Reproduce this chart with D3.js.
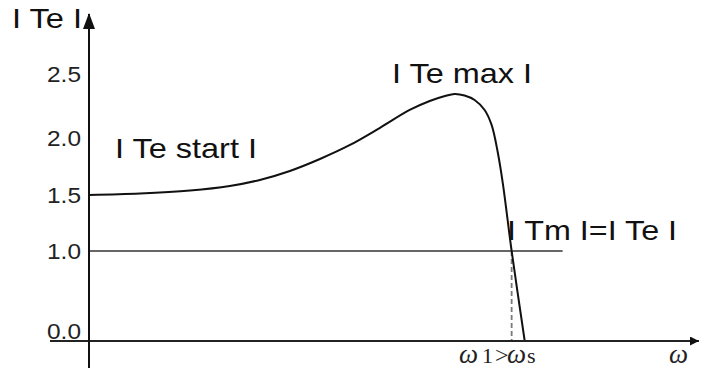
<!DOCTYPE html>
<html>
<head>
<meta charset="utf-8">
<script src="https://cdn.jsdelivr.net/npm/d3@7/dist/d3.min.js"></script>
<style>
  html, body { margin: 0; padding: 0; background: #fff; }
  svg { display: block; }
</style>
</head>
<body>
<svg id="chart" width="701" height="370"></svg>
<script>
// Torque–speed characteristic: speed as a fraction of synchronous speed
const omega  = [0, 0.117, 0.232, 0.323, 0.392, 0.461, 0.530, 0.599, 0.667, 0.736, 0.782, 0.817, 0.839, 0.862, 0.885, 0.908, 0.924, 0.938, 0.950, 0.970, 1.0];
// Electromagnetic torque |Te| (per unit)
const torque = [1.50, 1.513, 1.539, 1.579, 1.632, 1.711, 1.816, 1.939, 2.078, 2.219, 2.289, 2.328, 2.344, 2.332, 2.297, 2.219, 2.102, 1.877, 1.596, 1.0, 0];
// Load torque level and operating point
const loadTorque = [1.0];
const loadSpan = [0, 1.087];
const omega1 = [0.970];
// Y tick values
const yTicks = [0, 1.0, 1.5, 2.0, 2.5];

const svg = d3.select("#chart");

const x = d3.scaleLinear().domain([0, 1.4]).range([89, 699]);
// piecewise scale: the axis is drawn broken between 0 and 1
const y = d3.scaleLinear().domain([0, 1, 1.5, 2, 2.5]).range([341, 251, 195, 138, 74]);

// load torque line
svg.append("line")
  .attr("x1", x(loadSpan[0])).attr("x2", x(loadSpan[1]))
  .attr("y1", y(loadTorque[0])).attr("y2", y(loadTorque[0]))
  .attr("stroke", "#333").attr("stroke-width", 1.6);

// dashed drop line at the operating point
svg.append("line")
  .attr("x1", x(omega1[0])).attr("x2", x(omega1[0]))
  .attr("y1", y(loadTorque[0])).attr("y2", y(0))
  .attr("stroke", "#7a7a7a").attr("stroke-width", 1.8)
  .attr("stroke-dasharray", "5,3");

// torque curve
const pts = omega.map((w, i) => [w, torque[i]]);
svg.append("path")
  .datum(pts)
  .attr("fill", "none")
  .attr("stroke", "#111")
  .attr("stroke-width", 2)
  .attr("d", d3.line().x(d => x(d[0])).y(d => y(d[1])).curve(d3.curveCatmullRom.alpha(0.5)));

// axes with arrows
svg.append("defs").append("marker")
  .attr("id", "arrow")
  .attr("viewBox", "0 0 10 10")
  .attr("refX", 10).attr("refY", 5)
  .attr("markerWidth", 11).attr("markerHeight", 9)
  .attr("markerUnits", "userSpaceOnUse")
  .attr("orient", "auto")
  .append("path").attr("d", "M0,0 L10,5 L0,10 Z").attr("fill", "#111");

svg.append("line")
  .attr("x1", x(0) - 39).attr("x2", x(1.4))
  .attr("y1", y(0)).attr("y2", y(0))
  .attr("stroke", "#222").attr("stroke-width", 2)
  .attr("marker-end", "url(#arrow)");

svg.append("line")
  .attr("x1", x(0)).attr("x2", x(0))
  .attr("y1", y(0) + 27).attr("y2", 14)
  .attr("stroke", "#111").attr("stroke-width", 2);
svg.append("path")
  .attr("d", `M${x(0)},13 L${x(0) - 6},29 L${x(0) + 6},29 Z`)
  .attr("fill", "#111");

// y tick labels
const yAxis = svg.append("g")
  .attr("transform", `translate(${x(0)},0)`)
  .call(d3.axisLeft(y).tickValues(yTicks).tickSize(0).tickPadding(8).tickFormat(d3.format(".1f")));
yAxis.select(".domain").remove();
yAxis.selectAll("text")
  .style("font-family", "'Liberation Sans', Arial, sans-serif")
  .style("font-size", "22px")
  .style("fill", "#222")
  .attr("textLength", 34)
  .attr("lengthAdjust", "spacingAndGlyphs")
  .attr("dy", d => d === 0 ? "-0.12em" : "0.36em");

// annotations
const sans = "'Liberation Sans', Arial, sans-serif";
function label(txt, px, py, len) {
  svg.append("text")
    .attr("x", px).attr("y", py)
    .style("font-family", sans).style("font-size", "28px")
    .style("fill", "#111")
    .attr("textLength", len).attr("lengthAdjust", "spacingAndGlyphs")
    .text(txt);
}
label("I Te I", 12, 28, 70);
label("I Te max I", 392, 83, 140);
label("I Te start I", 115, 158, 142);
label("I Tm I=I Te I", 507, 240, 170);

// speed labels on the horizontal axis
const serif = "'Liberation Serif', 'Times New Roman', serif";
const t1 = svg.append("text")
  .attr("y", 363)
  .style("font-family", serif).style("font-size", "22px").style("fill", "#222");
t1.append("tspan").attr("x", 459).style("font-style", "italic").style("font-size", "27px").text("ω");
t1.append("tspan").attr("x", 482).text("1");
t1.append("tspan").attr("x", 495).style("font-size", "24px").text(">");
t1.append("tspan").attr("x", 507).style("font-style", "italic").style("font-size", "27px").text("ω");
t1.append("tspan").attr("x", 527).text("s");

svg.append("text")
  .attr("x", 669).attr("y", 363)
  .style("font-family", serif).style("font-size", "27px").style("font-style", "italic")
  .style("fill", "#222")
  .text("ω");
</script>
</body>
</html>
